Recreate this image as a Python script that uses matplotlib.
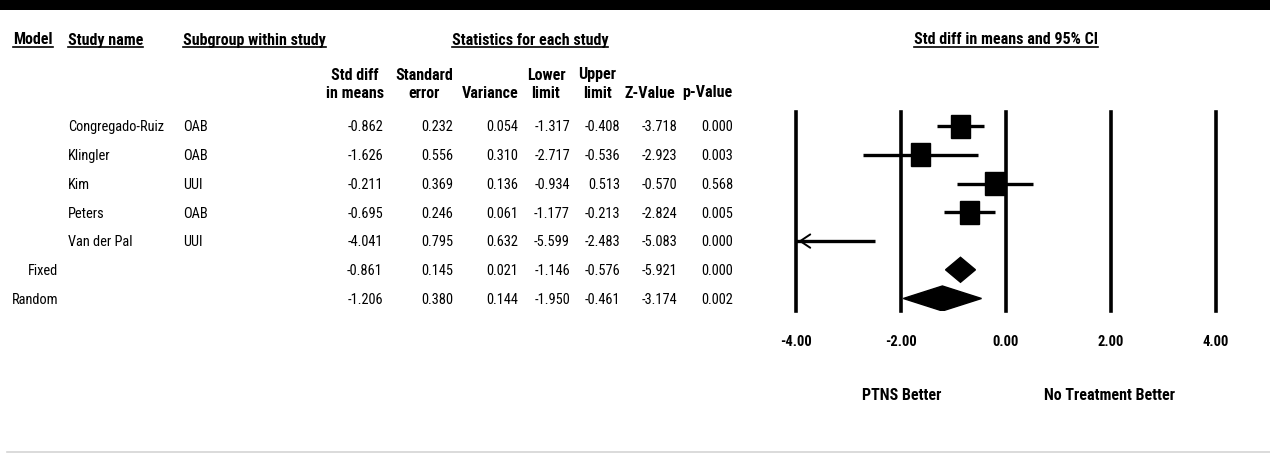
import matplotlib
matplotlib.use("Agg")
import matplotlib.pyplot as plt
from matplotlib import font_manager, transforms
from matplotlib.patches import Rectangle, Polygon
from matplotlib.lines import Line2D

# data
models = ["", "", "", "", "", "Fixed", "Random"]
studies = ["Congregado-Ruiz", "Klingler", "Kim", "Peters", "Van der Pal", "", ""]
subgroups = ["OAB", "OAB", "UUI", "OAB", "UUI", "", ""]
std_diff = [-0.862, -1.626, -0.211, -0.695, -4.041, -0.861, -1.206]
std_err = [0.232, 0.556, 0.369, 0.246, 0.795, 0.145, 0.380]
variance = [0.054, 0.310, 0.136, 0.061, 0.632, 0.021, 0.144]
lower = [-1.317, -2.717, -0.934, -1.177, -5.599, -1.146, -1.950]
upper = [-0.408, -0.536, 0.513, -0.213, -2.483, -0.576, -0.461]
z_value = [-3.718, -2.923, -0.570, -2.824, -5.083, -5.921, -3.174]
p_value = [0.000, 0.003, 0.568, 0.005, 0.000, 0.000, 0.002]
ticks = [-4, -2, 0, 2, 4]
col_heads = ["Std diff\nin means", "Standard\nerror", "Variance", "Lower\nlimit",
             "Upper\nlimit", "Z-Value", "p-Value"]

W, H = 1270, 453

# want an Arial Narrow look; take the first condensed family that has a bold face
fonts = font_manager.fontManager.ttflist
fam = "Liberation Sans"
for cand in ["Liberation Sans Narrow", "Arial Narrow", "Roboto Condensed", "PT Sans Narrow",
             "Asap Condensed", "Archivo Narrow"]:
    ws = [f.weight for f in fonts if f.name == cand]
    if ws and any(w in (700, "bold") for w in ws):
        fam = cand
        break
plt.rcParams["font.family"] = [fam, "DejaVu Sans"]

fig = plt.figure(figsize=(W / 100, H / 100), dpi=100)
rend = fig.canvas.get_renderer()

def fx(x):
    return x / W

def fy(y):
    return 1 - y / H

def fit_size(s, target, weight="normal"):
    t = fig.text(0, 0, s, fontsize=10, fontweight=weight)
    w = t.get_window_extent(rend).width
    t.remove()
    return 10 * target / w

fs = fit_size("Congregado-Ruiz", 97)
fsb = fit_size("Statistics for each study", 156, "bold")
fst = fit_size("-4.00", 32, "bold")

# forest plot axes: -4..4 spans x 796..1216 px, rows from y 126 with 28.7 px step
ax = fig.add_axes([fx(795.7), fy(311), 420 / W, 199 / H])
ax.set_xlim(-4, 4)
ax.set_ylim(6.436, -0.498)
for s in ax.spines.values():
    s.set_visible(False)
ax.set_yticks([])
ax.set_xticks(ticks)
ax.set_xticklabels(["%.2f" % t for t in ticks], fontweight="bold", fontsize=fst)
ax.tick_params(axis="x", length=0, pad=17)
for t in ticks:
    ax.axvline(t, color="black", lw=2.6, clip_on=False, zorder=1)

n_studies = 5
for i in range(len(std_diff)):
    est, lo, hi = std_diff[i], lower[i], upper[i]
    if i < n_studies:
        lo_c = max(lo, -4)
        ax.plot([lo_c, hi], [i, i], color="black", lw=2.4, solid_capstyle="butt", zorder=2)
        if lo < -4:
            ax.annotate("", xy=(-4, i), xytext=(lo_c + 0.3, i),
                        arrowprops=dict(arrowstyle="->,head_length=0.45,head_width=0.3",
                                        color="black", lw=1.4, mutation_scale=16),
                        annotation_clip=False, zorder=3)
        if -4 <= est <= 4:
            bw, bh = 19 / 52.5, 23 / 28.7
            ax.add_patch(Rectangle((est - bw / 2, i - bh / 2), bw, bh,
                                   facecolor="black", edgecolor="black", zorder=3))
    else:
        h = 12.5 / 28.7
        ax.add_patch(Polygon([(lo, i), (est, i - h), (hi, i), (est, i + h)],
                             closed=True, facecolor="black", edgecolor="black", zorder=3))

# table text: x in figure pixels, y in forest row units
row_tr = transforms.blended_transform_factory(fig.transFigure, ax.transData)
for i in range(len(std_diff)):
    yy = i + 0.04
    if models[i]:
        fig.text(fx(58), yy, models[i], transform=row_tr, ha="right", va="center", fontsize=fs)
    fig.text(fx(68), yy, studies[i], transform=row_tr, ha="left", va="center", fontsize=fs)
    fig.text(fx(183), yy, subgroups[i], transform=row_tr, ha="left", va="center", fontsize=fs)
    cols = [std_diff[i], std_err[i], variance[i], lower[i], upper[i], z_value[i], p_value[i]]
    for xr, v in zip([383, 453, 518, 570, 620, 677, 733], cols):
        fig.text(fx(xr), yy, "%.3f" % v, transform=row_tr, ha="right", va="center", fontsize=fs)

# column headers
col_centers = [355, 424, 490, 546, 597, 650, 707]
for xc, lab in zip(col_centers, col_heads):
    parts = lab.split("\n")
    if len(parts) == 2:
        fig.text(fx(xc), fy(75), parts[0], ha="center", va="center", fontsize=fsb, fontweight="bold")
    fig.text(fx(xc), fy(93), parts[-1], ha="center", va="center", fontsize=fsb, fontweight="bold")

heads = []
heads.append(fig.text(fx(13), fy(40), "Model", ha="left", va="center", fontsize=fsb, fontweight="bold"))
heads.append(fig.text(fx(68), fy(40), "Study name", ha="left", va="center", fontsize=fsb, fontweight="bold"))
heads.append(fig.text(fx(183), fy(40), "Subgroup within study", ha="left", va="center", fontsize=fsb, fontweight="bold"))
heads.append(fig.text(fx(530), fy(40), "Statistics for each study", ha="center", va="center", fontsize=fsb, fontweight="bold"))
heads.append(fig.text(fx(1006), fy(40), "Std diff in means and 95% CI", ha="center", va="center", fontsize=fsb, fontweight="bold"))

fig.text(fx(902), fy(396), "PTNS Better", ha="center", va="center", fontsize=fsb, fontweight="bold")
fig.text(fx(1110), fy(396), "No Treatment Better", ha="center", va="center", fontsize=fsb, fontweight="bold")

# top black band and bottom gray rule
fig.add_artist(Rectangle((0, fy(10)), 1, 10 / H, transform=fig.transFigure,
                         facecolor="black", edgecolor="none"))
fig.add_artist(Line2D([fx(7), 1], [fy(451.5), fy(451.5)], transform=fig.transFigure,
                      color="#d4d4d4", lw=1.2))

# underline the section headers
fig.canvas.draw()
for t in heads:
    bb = t.get_window_extent(rend)
    fig.add_artist(Line2D([bb.x0, bb.x1], [bb.y0 + 1.0, bb.y0 + 1.0],
                          transform=transforms.IdentityTransform(), color="black", lw=1.2))

fig.savefig("out.png", dpi=100)
